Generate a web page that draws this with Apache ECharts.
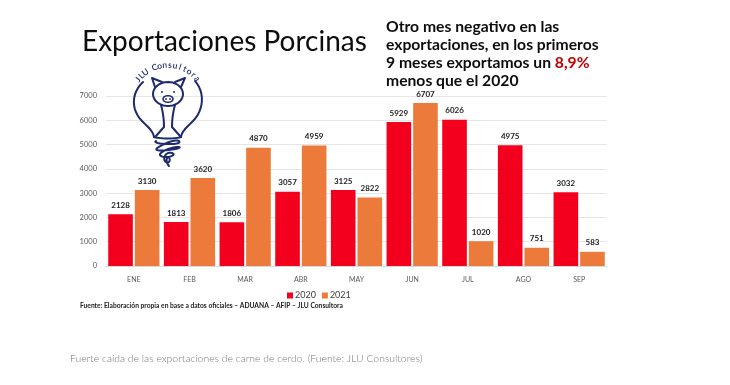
<!DOCTYPE html>
<html><head><meta charset="utf-8">
<script src="https://cdn.jsdelivr.net/npm/echarts@6/dist/echarts.min.js"></script>
<style>html,body{margin:0;padding:0;background:#fff}#c{width:730px;height:385px}</style>
</head><body><div id="c"></div>
<script>
const categories = ['ENE','FEB','MAR','ABR','MAY','JUN','JUL','AGO','SEP'];
const values2020 = [2128,1813,1806,3057,3125,5929,6026,4975,3032];
const values2021 = [3130,3620,4870,4959,2822,6707,1020,751,583];
const seriesNames = ['2020','2021'];
const yTicks = [0,1000,2000,3000,4000,5000,6000,7000];

const chart = echarts.init(document.getElementById('c'));
const navy = '#1d2a6c';
const F = 'Lato, "Open Sans", sans-serif';

// simple path -> polylines (M, L, C only)
function pathToPolys(d) {
  const toks = d.match(/[MLC]|-?[\d.]+/g);
  const polys = []; let cur = null, i = 0, cmd = null, px = 0, py = 0;
  while (i < toks.length) {
    if (/[MLC]/.test(toks[i])) { cmd = toks[i++]; }
    if (cmd === 'M') { px = +toks[i++]; py = +toks[i++]; cur = [[px, py]]; polys.push(cur); cmd = 'L'; }
    else if (cmd === 'L') { px = +toks[i++]; py = +toks[i++]; cur.push([px, py]); }
    else if (cmd === 'C') {
      const x1 = +toks[i++], y1 = +toks[i++], x2 = +toks[i++], y2 = +toks[i++], x3 = +toks[i++], y3 = +toks[i++];
      for (let k = 1; k <= 12; k++) {
        const t = k / 12, u = 1 - t;
        cur.push([u*u*u*px + 3*u*u*t*x1 + 3*u*t*t*x2 + t*t*t*x3, u*u*u*py + 3*u*u*t*y1 + 3*u*t*t*y2 + t*t*t*y3]);
      }
      px = x3; py = y3;
    }
  }
  return polys;
}
function ellipsePts(ecx, ecy, rx, ry) {
  const p = []; for (let k = 0; k <= 40; k++) { const a = k / 40 * Math.PI * 2; p.push([ecx + rx * Math.cos(a), ecy + ry * Math.sin(a)]); } return p;
}

const logoPaths = [
  'M143,82 C131,93 131,110 142,121 C148,127 153,131 154,137',
  'M195,81 C205,92 204,110 193,121 C187,127 182,131 181,137',
  'M161,105 C163,112 164,120 164,127 L156,136 M175,105 C173,112 172,120 172,127 L180,136',
  'M155,87 L152,78 L162,82 M181,87 L185,78 L175,82',
  'M154,137 C160,139 176,139 181,137 M156,141 C150,144 184,146 179,141 C174,138 152,149 157,150 C162,152 184,148 179,147 C174,146 155,153 161,156 C166,159 178,155 172,153 C165,151 162,160 166,162 C170,164 171,158 168,157 C166,158 166,163 169,166'
];
const logo = [];
logoPaths.forEach(d => pathToPolys(d).forEach(pts => logo.push({ type: 'polyline', shape: { points: pts }, style: { stroke: navy, lineWidth: 2, fill: null, lineJoin: 'round', lineCap: 'round' }, z: 10 })));
logo.push({ type: 'polyline', shape: { points: ellipsePts(168, 94, 15, 12) }, style: { stroke: navy, lineWidth: 2, fill: null }, z: 10 });
logo.push({ type: 'polyline', shape: { points: ellipsePts(168, 99, 5, 3.3) }, style: { stroke: navy, lineWidth: 1.5, fill: null }, z: 10 });
[[166,99,0.9],[170,99,0.9],[162,92,1],[174,92,1]].forEach(c => logo.push({ type: 'circle', shape: { cx: c[0], cy: c[1], r: c[2] }, style: { fill: navy }, z: 10 }));

// arc text for logo
const arcText = 'JLU Consultora';
const arcEls = [];
const cx = 168, cy = 103, r = 38;
const a0 = -52, a1 = 50;
for (let i = 0; i < arcText.length; i++) {
  const ch = arcText[i];
  if (ch === ' ') continue;
  const a = (a0 + (a1 - a0) * i / (arcText.length - 1)) * Math.PI / 180;
  arcEls.push({
    type: 'text', x: cx + r * Math.sin(a), y: cy - r * Math.cos(a), rotation: -a,
    style: { text: ch, font: '600 8.5px ' + F, fill: navy, align: 'center', verticalAlign: 'middle' },
    z: 10
  });
}

chart.setOption({
  backgroundColor: '#fff',
  animation: false,
  grid: { left: 106, right: 123, top: 96, bottom: 119 },
  legend: {
    data: seriesNames, left: 282, top: 286, itemWidth: 6, itemHeight: 6, itemGap: 6,
    icon: 'rect', textStyle: { fontFamily: F, fontSize: 9, color: '#404040', padding: [0,0,0,-3] }
  },
  xAxis: {
    type: 'category', data: categories,
    axisLine: { lineStyle: { color: '#d9d9d9' } }, axisTick: { show: false },
    axisLabel: { fontFamily: F, fontSize: 7, color: '#595959', margin: 10 }
  },
  yAxis: {
    type: 'value', min: yTicks[0], max: yTicks[yTicks.length - 1], interval: 1000,
    axisLine: { show: false }, axisTick: { show: false },
    splitLine: { lineStyle: { color: '#e6e6e6' } },
    axisLabel: { fontFamily: F, fontSize: 7.5, color: '#595959', margin: 9, formatter: v => String(v) }
  },
  series: [
    { name: seriesNames[0], type: 'bar', data: values2020, barGap: '8%', barCategoryGap: '8%',
      itemStyle: { color: '#f2001e' },
      label: { show: true, position: 'top', distance: 5, fontFamily: F, fontSize: 8, fontWeight: 'bold', color: '#222' } },
    { name: seriesNames[1], type: 'bar', data: values2021,
      itemStyle: { color: '#ec7b3b' },
      label: { show: true, position: 'top', distance: 5, fontFamily: F, fontSize: 8, fontWeight: 'bold', color: '#222' } }
  ],
  graphic: [
    { type: 'text', x: 82, y: 28, style: { text: 'Exportaciones Porcinas', font: '28px ' + F, fill: '#0d0d0d' } },
    { type: 'text', x: 386, y: 18, style: {
      text: 'Otro mes negativo en las\nexportaciones, en los primeros\n9 meses exportamos un {r|8,9%}\nmenos que el 2020',
      font: 'bold 15.7px ' + F, fill: '#0d0d0d', lineHeight: 18,
      rich: { r: { fill: '#c00000', font: 'bold 15.7px ' + F, lineHeight: 18 } } } },
    { type: 'text', x: 80, y: 302, style: { text: 'Fuente: Elaboración propia en base a datos oficiales – ADUANA – AFIP – JLU Consultora', font: 'bold 6.7px ' + F, fill: '#1a1a1a' } },
    { type: 'text', x: 70, y: 354, style: { text: 'Fuerte caída de las exportaciones de carne de cerdo. (Fuente: JLU Consultores)', font: '300 10.4px ' + F, fill: '#777' } }
  ].concat(logo, arcEls)
});
</script></body></html>
